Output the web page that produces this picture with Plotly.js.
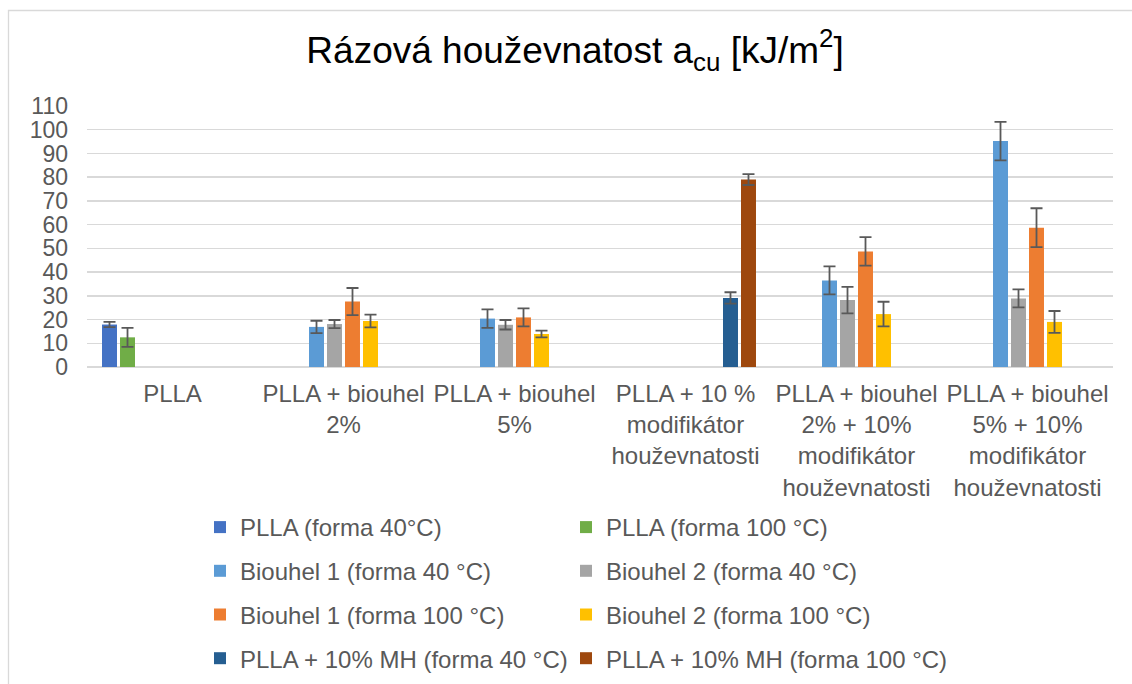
<!DOCTYPE html>
<html>
<head>
<meta charset="utf-8">
<script src="https://cdn.plot.ly/plotly-3.0.1.min.js"></script>
<style>
  html, body { margin: 0; padding: 0; background: #ffffff; }
  #chart { width: 1132px; height: 684px; }
</style>
</head>
<body>
<div id="chart"></div>
<script>
// ---- data ----
const categories = [
  "PLLA",
  "PLLA + biouhel<br>2%",
  "PLLA + biouhel<br>5%",
  "PLLA + 10 %<br>modifikátor<br>houževnatosti",
  "PLLA + biouhel<br>2% + 10%<br>modifikátor<br>houževnatosti",
  "PLLA + biouhel<br>5% + 10%<br>modifikátor<br>houževnatosti"
];

const seriesNames = [
  "PLLA (forma 40°C)",
  "PLLA (forma 100 °C)",
  "Biouhel 1 (forma 40 °C)",
  "Biouhel 2 (forma 40 °C)",
  "Biouhel 1 (forma 100 °C)",
  "Biouhel 2 (forma 100 °C)",
  "PLLA + 10% MH (forma 40 °C)",
  "PLLA + 10% MH (forma 100 °C)"
];

const plla40      = [17.9, null, null, null, null, null];
const plla40Err   = [1.1,  null, null, null, null, null];
const plla100     = [12.5, null, null, null, null, null];
const plla100Err  = [4.0,  null, null, null, null, null];
const bio1_40     = [null, 16.9, 20.4, null, 36.5, 95.2];
const bio1_40Err  = [null, 2.6,  3.9,  null, 5.9,  8.1];
const bio2_40     = [null, 18.1, 17.8, null, 28.2, 28.9];
const bio2_40Err  = [null, 1.7,  2.0,  null, 5.6,  3.8];
const bio1_100    = [null, 27.6, 20.9, null, 48.7, 58.7];
const bio1_100Err = [null, 5.7,  3.8,  null, 6.0,  8.2];
const bio2_100    = [null, 19.4, 13.9, null, 22.3, 19.0];
const bio2_100Err = [null, 2.7,  1.4,  null, 5.2,  4.6];
const mh40        = [null, null, null, 29.1, null, null];
const mh40Err     = [null, null, null, 2.4,  null, null];
const mh100       = [null, null, null, 79.0, null, null];
const mh100Err    = [null, null, null, 2.3,  null, null];

const yTickVals = [0, 10, 20, 30, 40, 50, 60, 70, 80, 90, 100, 110];

// ---- styling ----
const colors = ["#4472C4", "#70AD47", "#5B9BD5", "#A5A5A5", "#ED7D31", "#FFC000", "#255E91", "#9E480E"];
const values = [plla40, plla100, bio1_40, bio2_40, bio1_100, bio2_100, mh40, mh100];
const errors = [plla40Err, plla100Err, bio1_40Err, bio2_40Err, bio1_100Err, bio2_100Err, mh40Err, mh100Err];
const legendOf = ["legend", "legend2", "legend", "legend2", "legend", "legend2", "legend", "legend2"];

const FONT = "Liberation Sans, Arial, Helvetica, sans-serif";
const TXT = "#595959";

const traces = values.map((v, i) => ({
  type: "bar",
  name: seriesNames[i],
  x: categories,
  y: v,
  marker: { color: colors[i], line: { width: 0 } },
  error_y: { type: "data", array: errors[i], visible: true, color: "#595959", thickness: 1.8, width: 6 },
  legend: legendOf[i],
  legendgroup: "g" + i,
  hoverinfo: "skip"
}));

const L = 87, R = 19, T = 106, B = 317;
const W = 1132, H = 684;
const pw = W - L - R, ph = H - T - B;
const px = v => (v - L) / pw;
const py = v => (H - B - v) / ph;

const legendCommon = {
  orientation: "v",
  font: { family: FONT, size: 24, color: TXT },
  bgcolor: "rgba(0,0,0,0)",
  borderwidth: 0,
  traceorder: "grouped",
  tracegroupgap: 9.5,
  xanchor: "left",
  yanchor: "top",
  itemclick: false,
  itemdoubleclick: false
};

const layout = {
  width: W,
  height: H,
  margin: { l: L, r: R, t: T, b: B, pad: 0, autoexpand: false },
  paper_bgcolor: "#ffffff",
  plot_bgcolor: "#ffffff",
  font: { family: FONT, size: 22, color: TXT },
  title: {
    text: "Rázová houževnatost a<sub>cu</sub> [kJ/m<sup>2</sup>]",
    font: { family: FONT, size: 37, color: "#000000" },
    x: 0.508, xanchor: "center",
    y: 1 - 50 / H, yanchor: "middle"
  },
  barmode: "group",
  bargap: 0.158,
  bargroupgap: 0.167,
  xaxis: {
    type: "category",
    showgrid: false,
    showline: false,
    zeroline: false,
    ticks: "",
    tickangle: 0,
    ticklabelstandoff: 10,
    tickfont: { family: FONT, size: 24, color: TXT },
    automargin: false
  },
  yaxis: {
    range: [0, 110],
    tickvals: yTickVals,
    ticktext: yTickVals.map(String),
    showgrid: true,
    gridcolor: "#d9d9d9",
    gridwidth: 1.4,
    zeroline: true,
    zerolinecolor: "#d9d9d9",
    zerolinewidth: 1.4,
    showline: false,
    ticks: "",
    ticklabelstandoff: 18,
    tickfont: { family: FONT, size: 23, color: TXT },
    automargin: false
  },
  legend: Object.assign({}, legendCommon, { x: px(200), y: py(505) }),
  legend2: Object.assign({}, legendCommon, { x: px(566), y: py(505) }),
  shapes: [{
    type: "rect",
    xref: "paper", yref: "paper",
    x0: px(8.5), x1: px(1150),
    y0: py(720), y1: py(10.5),
    line: { color: "#d9d9d9", width: 1.3 },
    fillcolor: "rgba(0,0,0,0)",
    layer: "below"
  }],
  showlegend: true
};

Plotly.newPlot("chart", traces, layout, { displayModeBar: false, staticPlot: true });
</script>
</body>
</html>
